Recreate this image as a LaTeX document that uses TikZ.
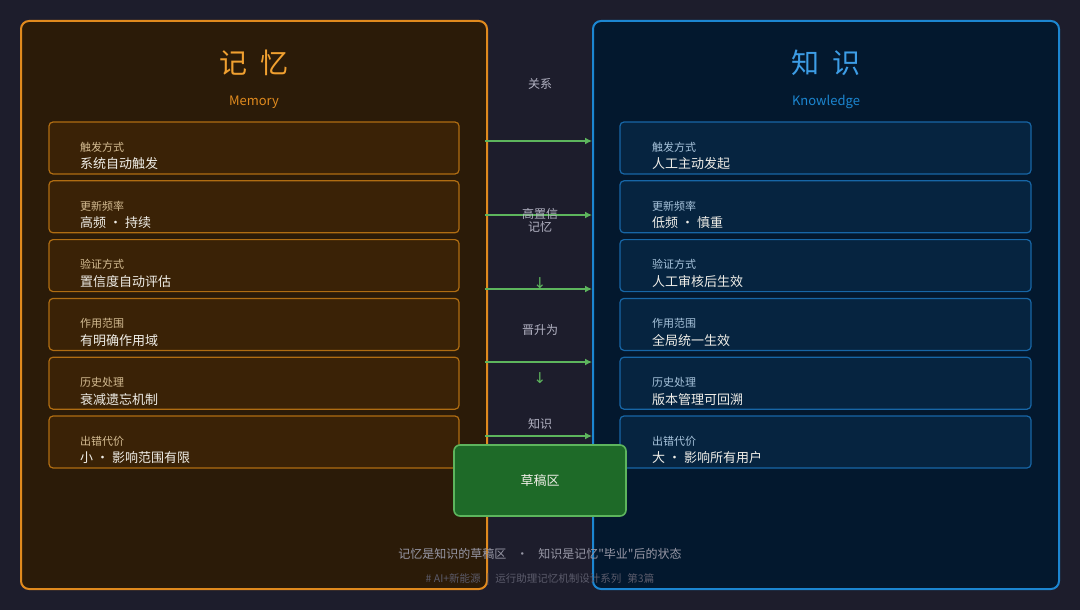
\documentclass[tikz,border=0pt]{standalone}
\usepackage{fontspec}
\setmainfont{Noto Sans CJK SC}
\newfontfamily\plainfont{Noto Sans CJK SC}
\newfontfamily\symfont{DejaVu Sans}
\usetikzlibrary{arrows.meta}
\definecolor{bg}{HTML}{1D1D2C}
\definecolor{memfill}{HTML}{2B1B08}
\definecolor{memline}{HTML}{E08A1E}
\definecolor{memrow}{HTML}{3A2206}
\definecolor{memrowline}{HTML}{B06D12}
\definecolor{memtitle}{HTML}{F0A030}
\definecolor{memlab}{HTML}{D4BC92}
\definecolor{kfill}{HTML}{03182E}
\definecolor{kline}{HTML}{1C86D1}
\definecolor{krow}{HTML}{062440}
\definecolor{krowline}{HTML}{1766A6}
\definecolor{ktitle}{HTML}{3D9DE6}
\definecolor{klab}{HTML}{A8C4DC}
\definecolor{valtxt}{HTML}{F0EEE8}
\definecolor{flowgreen}{HTML}{5DB55D}
\definecolor{draftfill}{HTML}{1E6A28}
\definecolor{midtxt}{HTML}{B4B4C4}
\definecolor{foot1}{HTML}{9898A6}
\definecolor{foot2}{HTML}{5C5C6C}
\tikzset{
  panel/.style={rounded corners=8pt, line width=2pt, minimum width=466pt, minimum height=568pt},
  mempanel/.style={panel, draw=memline, fill=memfill},
  kpanel/.style={panel, draw=kline, fill=kfill},
  rowbox/.style={rounded corners=4pt, line width=1.2pt, minimum height=52pt},
  mrow/.style={rowbox, draw=memrowline, fill=memrow, minimum width=410pt},
  krowbox/.style={rowbox, draw=krowline, fill=krow, minimum width=411pt},
  ttl/.style={font=\fontsize{28}{30}\selectfont, inner sep=0pt},
  sub/.style={font=\fontsize{13}{15}\selectfont, inner sep=0pt},
  lab/.style={font=\fontsize{11}{13}\selectfont, inner sep=0pt, anchor=west},
  val/.style={font=\fontsize{13}{15}\selectfont, inner sep=0pt, anchor=west, text=valtxt},
  flow/.style={-{Latex[length=7pt,width=7pt]}, line width=2pt, draw=flowgreen},
  mid/.style={font=\fontsize{12}{15}\selectfont, text=midtxt, align=center, inner sep=0pt},
  down/.style={font=\symfont\fontsize{15}{15}\selectfont, text=flowgreen, inner sep=0pt},
  draft/.style={draw=flowgreen, fill=draftfill, line width=1.6pt, rounded corners=6pt,
                minimum width=172pt, minimum height=71pt, text=valtxt,
                font=\fontsize{13}{15}\selectfont},
}
\begin{document}
\begin{tikzpicture}[x=1pt,y=-1pt]
  \fill[bg] (0,0) rectangle (1080,610);
  % two panels
  \node[mempanel] (mem) at (254,305) {};
  \node[kpanel] (kno) at (826,305) {};
  \node[ttl, text=memtitle] (memttl) at (254,63) {记\hspace{13pt}忆};
  \node[sub, text=memline] (memsub) at (254,102) {Memory};
  \node[ttl, text=ktitle] (knottl) at (826,63) {知\hspace{13pt}识};
  \node[sub, text=kline] (knosub) at (826,102) {Knowledge};
  % rows
  \foreach \lab/\val [count=\i] in {触发方式/系统自动触发, 更新频率/高频 · 持续,
      验证方式/置信度自动评估, 作用范围/有明确作用域, 历史处理/衰减遗忘机制,
      出错代价/小 · 影响范围有限}{
    \node[mrow] (m\i) at (254,{148+58.8*(\i-1)}) {};
    \node[lab, text=memlab] (ml\i) at (80,{147+58.8*(\i-1)}) {\lab};
    \node[val] (mv\i) at (80,{164+58.8*(\i-1)}) {\val};
  }
  \foreach \lab/\val [count=\i] in {触发方式/人工主动发起, 更新频率/低频 · 慎重,
      验证方式/人工审核后生效, 作用范围/全局统一生效, 历史处理/版本管理可回溯,
      出错代价/大 · 影响所有用户}{
    \node[krowbox] (k\i) at (825.5,{148+58.8*(\i-1)}) {};
    \node[lab, text=klab] (kl\i) at (652,{147+58.8*(\i-1)}) {\lab};
    \node[val] (kv\i) at (652,{164+58.8*(\i-1)}) {\val};
  }
  % connectors between the panels
  \foreach \y [count=\i] in {141,215,289,362,436}{
    \coordinate (fa\i) at (485,\y);
    \draw[flow] (fa\i) -- (kno.west |- fa\i);
  }
  % middle labels
  \node[mid] (rel) at (540,84) {关系};
  \node[mid] (hc) at (540,220) {高置信\\[-2pt]记忆};
  \node[down] (d1) at (540,283) {↓};
  \node[mid] (up) at (540,330) {晋升为};
  \node[down] (d2) at (540,378) {↓};
  \node[mid] (kn) at (540,424) {知识};
  % draft box
  \node[draft] (draft) at (540,480.5) {草稿区};
  % footer
  \node[font=\plainfont\fontsize{12}{15}\selectfont, text=foot1, inner sep=0pt] (note) at (540,554)
     {记忆是知识的草稿区\hspace{10pt}·\hspace{10pt}知识是记忆"毕业"后的状态};
  \node[font=\fontsize{10.5}{12}\selectfont, text=foot2, inner sep=0pt] (foot) at (540,580)
     {\# AI+新能源\hspace{6pt}|\hspace{6pt}运行助理记忆机制设计系列\hspace{6pt}第3篇};
\end{tikzpicture}
\end{document}
